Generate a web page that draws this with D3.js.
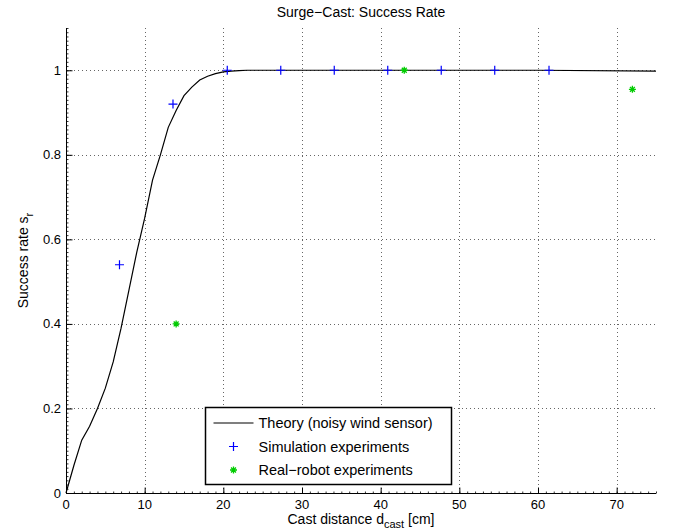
<!DOCTYPE html>
<html>
<head>
<meta charset="utf-8">
<script src="https://cdn.jsdelivr.net/npm/d3@7"></script>
<style>
  body { margin: 0; background: #fff; }
  text { font-family: 'Liberation Sans', Arial, Helvetica, sans-serif; fill: #000; }
</style>
</head>
<body>
<div id="chart"></div>
<script>
// theory curve (noisy wind sensor)
const theoryX = [0, 1, 2, 3, 4, 5, 6, 7, 8, 9, 10, 11, 12, 13, 14, 15, 16, 17, 18, 19, 20, 21, 22, 23, 30, 40, 50, 60, 75];
const theoryY = [0, 0.065, 0.125, 0.158, 0.2, 0.248, 0.31, 0.39, 0.48, 0.57, 0.65, 0.74, 0.80, 0.865, 0.905, 0.94, 0.96, 0.977, 0.986, 0.992, 0.996, 0.998, 0.999, 1, 1, 1, 1, 1, 0.998];

// simulation experiments
const simX = [6.8, 13.6, 20.5, 27.3, 34.1, 40.9, 47.7, 54.5, 61.4];
const simY = [0.54, 0.92, 1, 1, 1, 1, 1, 1, 1];

// real robot experiments
const robotX = [14, 43, 72];
const robotY = [0.4, 1, 0.955];

const xTicks = [0, 10, 20, 30, 40, 50, 60, 70];
const yTicks = [0, 0.2, 0.4, 0.6, 0.8, 1];

const legendLabels = ['Theory (noisy wind sensor)', 'Simulation experiments', 'Real\u2212robot experiments'];

const width = 680;
const height = 532;
const margin = { left: 66, right: 24, top: 28, bottom: 39 };

const svg = d3.select('#chart')
  .append('svg')
  .attr('width', width)
  .attr('height', height);

const x = d3.scaleLinear().domain([0, 75]).range([margin.left, width - margin.right]);
const y = d3.scaleLinear().domain([0, 1.1]).range([height - margin.bottom, margin.top]);

// grid
const grid = svg.append('g')
  .attr('stroke', '#666')
  .attr('stroke-width', 1)
  .attr('stroke-dasharray', '1,3');

grid.selectAll('.gx')
  .data(xTicks.filter(d => d > 0))
  .enter().append('line')
  .attr('x1', d => Math.round(x(d)) + 0.5)
  .attr('x2', d => Math.round(x(d)) + 0.5)
  .attr('y1', y(0))
  .attr('y2', y(1.1));

grid.selectAll('.gy')
  .data(yTicks.filter(d => d > 0))
  .enter().append('line')
  .attr('y1', d => Math.round(y(d)) + 0.5)
  .attr('y2', d => Math.round(y(d)) + 0.5)
  .attr('x1', x(0))
  .attr('x2', x(75));

const x0 = Math.round(y(0)) + 0.5;
const y0 = Math.round(x(0)) + 0.5;

// minor ticks, inside like matlab
const xMinor = svg.append('g')
  .attr('transform', `translate(0,${x0})`)
  .call(d3.axisBottom(x).tickValues(d3.range(0, 76, 1)).tickSize(-2).tickFormat(''));
xMinor.select('.domain').remove();
xMinor.selectAll('line').attr('stroke', '#333');

const yMinor = svg.append('g')
  .attr('transform', `translate(${y0},0)`)
  .call(d3.axisLeft(y).tickValues(d3.range(0, 111, 1).map(d => d / 100)).tickSize(-2).tickFormat(''));
yMinor.select('.domain').remove();
yMinor.selectAll('line').attr('stroke', '#333');

// major ticks
const xMajor = svg.append('g')
  .attr('transform', `translate(0,${x0})`)
  .call(d3.axisBottom(x).tickValues(xTicks).tickSize(-6).tickFormat(''));
xMajor.select('.domain').attr('d', `M${x(0)},0H${x(75)}`).attr('stroke', '#000');

const yMajor = svg.append('g')
  .attr('transform', `translate(${y0},0)`)
  .call(d3.axisLeft(y).tickValues(yTicks).tickSize(-6).tickFormat(''));
yMajor.select('.domain').attr('d', `M0,${y(0)}V${y(1.1)}`).attr('stroke', '#000');

// tick labels
svg.append('g').selectAll('text')
  .data(xTicks)
  .enter().append('text')
  .attr('x', d => x(d))
  .attr('y', 509)
  .attr('text-anchor', 'middle')
  .attr('font-size', 13)
  .text(d => d);

svg.append('g').selectAll('text')
  .data(yTicks)
  .enter().append('text')
  .attr('x', 61)
  .attr('y', d => y(d))
  .attr('dy', '0.35em')
  .attr('text-anchor', 'end')
  .attr('font-size', 13)
  .text(d => +d.toFixed(1));

// theory line
const theory = theoryX.map((d, i) => [d, theoryY[i]]);
svg.append('path')
  .datum(theory)
  .attr('fill', 'none')
  .attr('stroke', '#000')
  .attr('stroke-width', 1.2)
  .attr('d', d3.line().x(d => x(d[0])).y(d => y(d[1])));

// markers
function plus(g, cx, cy, s) {
  g.append('path')
    .attr('d', `M${cx - s},${cy}H${cx + s}M${cx},${cy - s}V${cy + s}`)
    .attr('stroke', '#0000ff')
    .attr('stroke-width', 1.2)
    .attr('fill', 'none');
}

function star(g, cx, cy, s) {
  const d = s * 0.7;
  g.append('path')
    .attr('d', `M${cx - s},${cy}H${cx + s}M${cx},${cy - s}V${cy + s}M${cx - d},${cy - d}L${cx + d},${cy + d}M${cx - d},${cy + d}L${cx + d},${cy - d}`)
    .attr('stroke', '#00cc00')
    .attr('stroke-width', 1.3)
    .attr('fill', 'none');
}

const marks = svg.append('g');
simX.forEach((d, i) => plus(marks, x(d), y(simY[i]), 4.5));
robotX.forEach((d, i) => star(marks, x(d), y(robotY[i]), 3.5));

// legend
const legend = svg.append('g')
  .attr('transform', 'translate(205.5, 407.5)');

legend.append('rect')
  .attr('width', 246)
  .attr('height', 77)
  .attr('fill', '#fff')
  .attr('stroke', '#000')
  .attr('stroke-width', 1.5);

legend.selectAll('text')
  .data(legendLabels)
  .enter().append('text')
  .attr('x', 53)
  .attr('y', (d, i) => 15.5 + i * 23.5)
  .attr('dy', '0.35em')
  .attr('font-size', 14.5)
  .text(d => d);

legend.append('line')
  .attr('x1', 8).attr('x2', 48)
  .attr('y1', 15.5).attr('y2', 15.5)
  .attr('stroke', '#000')
  .attr('stroke-width', 1.2);
plus(legend, 28, 39, 4.5);
star(legend, 28, 62.5, 3.5);

// title & labels
svg.append('text')
  .attr('x', (x(0) + x(75)) / 2)
  .attr('y', 17)
  .attr('text-anchor', 'middle')
  .attr('font-size', 14)
  .text('Surge\u2212Cast: Success Rate');

const xl = svg.append('text')
  .attr('x', (x(0) + x(75)) / 2)
  .attr('y', 524)
  .attr('text-anchor', 'middle')
  .attr('font-size', 14);
xl.append('tspan').text('Cast distance d');
xl.append('tspan').attr('dy', 4).attr('font-size', 11).text('cast');
xl.append('tspan').attr('dy', -4).text(' [cm]');

const yl = svg.append('text')
  .attr('transform', `translate(28,${(y(0) + y(1.1)) / 2}) rotate(-90)`)
  .attr('text-anchor', 'middle')
  .attr('font-size', 14);
yl.append('tspan').text('Success rate s');
yl.append('tspan').attr('dy', 5).attr('font-size', 11).text('r');
</script>
</body>
</html>
